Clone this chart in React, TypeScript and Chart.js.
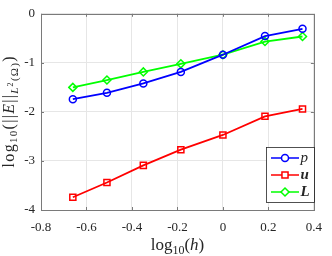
import React, { useEffect, useRef } from "react";
import { Chart, registerables } from "chart.js";

Chart.register(...registerables);

const logH = [-0.66, -0.51, -0.35, -0.185, 0, 0.185, 0.35];
const errP = [-1.74, -1.61, -1.42, -1.185, -0.834, -0.455, -0.307];
const errU = [-3.74, -3.44, -3.09, -2.77, -2.47, -2.09, -1.94];
const errL = [-1.5, -1.35, -1.185, -1.02, -0.834, -0.566, -0.463];
const xTicks = [-0.8, -0.6, -0.4, -0.2, 0, 0.2, 0.4];
const yTicks = [-4, -3, -2, -1, 0];

const SERIF = "'Liberation Serif', 'DejaVu Serif', serif";
const TXT = "#262626";

type Part = { t: string; size: number; style?: string; dy?: number };

// draws text parts centred at (cx, cy); if target is given, spreads glyphs to reach that width
function drawRich(ctx: CanvasRenderingContext2D, parts: Part[], cx: number, cy: number, target?: number) {
  const glyphs: { c: string; font: string; dy: number; w: number }[] = [];
  parts.forEach((p) => {
    const font = `${p.style || ""} ${p.size}px ${SERIF}`;
    ctx.font = font;
    for (const c of Array.from(p.t)) {
      glyphs.push({ c, font, dy: p.dy || 0, w: ctx.measureText(c).width });
    }
  });
  const natural = glyphs.reduce((s, g) => s + g.w, 0);
  const gap = target && glyphs.length > 1 ? Math.max(0, (target - natural) / (glyphs.length - 1)) : 0;
  const total = natural + gap * (glyphs.length - 1);
  let x = cx - total / 2;
  ctx.textBaseline = "alphabetic";
  ctx.textAlign = "left";
  glyphs.forEach((g) => {
    ctx.font = g.font;
    ctx.fillText(g.c, x, cy + g.dy);
    x += g.w + gap;
  });
}

function drawMarker(ctx: CanvasRenderingContext2D, ps: string, x: number, y: number, r: number, color: string) {
  ctx.save();
  ctx.strokeStyle = color;
  ctx.fillStyle = "#ffffff";
  ctx.lineWidth = 1.5;
  ctx.beginPath();
  if (ps === "circle") {
    ctx.arc(x, y, r, 0, Math.PI * 2);
  } else if (ps === "rect") {
    const s = r * Math.SQRT1_2;
    ctx.rect(x - s, y - s, 2 * s, 2 * s);
  } else {
    ctx.moveTo(x, y - r);
    ctx.lineTo(x + r, y);
    ctx.lineTo(x, y + r);
    ctx.lineTo(x - r, y);
    ctx.closePath();
  }
  ctx.fill();
  ctx.stroke();
  ctx.restore();
}

const decorPlugin = {
  id: "decor",
  afterDraw(chart: any) {
    const ctx: CanvasRenderingContext2D = chart.ctx;
    const a = chart.chartArea;
    const xs = chart.scales.x;
    const ys = chart.scales.y;
    ctx.save();
    ctx.strokeStyle = "#7a7a7a";
    ctx.lineWidth = 1;
    ctx.strokeRect(Math.round(a.left) + 0.5, Math.round(a.top) + 0.5, Math.round(a.right - a.left), Math.round(a.bottom - a.top));
    ctx.beginPath();
    xTicks.forEach((v) => {
      const px = Math.round(xs.getPixelForValue(v)) + 0.5;
      ctx.moveTo(px, a.bottom);
      ctx.lineTo(px, a.bottom - 3);
      ctx.moveTo(px, a.top);
      ctx.lineTo(px, a.top + 3);
    });
    yTicks.forEach((v) => {
      const py = Math.round(ys.getPixelForValue(v)) + 0.5;
      ctx.moveTo(a.left, py);
      ctx.lineTo(a.left + 3, py);
      ctx.moveTo(a.right, py);
      ctx.lineTo(a.right - 3, py);
    });
    ctx.stroke();

    ctx.fillStyle = TXT;
    drawRich(
      ctx,
      [
        { t: "log", size: 17 },
        { t: "10", size: 12, dy: 3.5 },
        { t: "(", size: 17 },
        { t: "h", size: 17, style: "italic" },
        { t: ")", size: 17 },
      ],
      (a.left + a.right) / 2,
      250
    );
    ctx.save();
    ctx.translate(13.5, (a.top + a.bottom) / 2);
    ctx.rotate(-Math.PI / 2);
    drawRich(
      ctx,
      [
        { t: "log", size: 16 },
        { t: "10", size: 11, dy: 3.5 },
        { t: "(||", size: 16 },
        { t: "E", size: 16, style: "italic" },
        { t: "||", size: 16 },
        { t: "L", size: 11, style: "italic", dy: 4 },
        { t: "2", size: 8, dy: -0.5 },
        { t: "(Ω)", size: 11, dy: 4 },
        { t: ")", size: 16 },
      ],
      0,
      0,
      111
    );
    ctx.restore();

    const lx = 266, ly = 147, lw = 48, lh = 55;
    ctx.fillStyle = "#ffffff";
    ctx.fillRect(lx, ly, lw, lh);
    ctx.strokeStyle = "#262626";
    ctx.lineWidth = 0.8;
    ctx.strokeRect(lx + 0.5, ly + 0.5, lw, lh);
    const items = [
      { label: "p", style: "italic", color: "#0000ff", ps: "circle", r: 3.5 },
      { label: "u", style: "italic bold", color: "#ff0000", ps: "rect", r: 4.3 },
      { label: "L", style: "italic bold", color: "#00ff00", ps: "rectRot", r: 4 },
    ];
    items.forEach((it, i) => {
      const y = 158 + i * 17;
      ctx.strokeStyle = it.color;
      ctx.lineWidth = 1.5;
      ctx.beginPath();
      ctx.moveTo(271, y);
      ctx.lineTo(299, y);
      ctx.stroke();
      drawMarker(ctx, it.ps, 285, y, it.r, it.color);
      ctx.fillStyle = TXT;
      ctx.font = `${it.style} 15px ${SERIF}`;
      ctx.textAlign = "left";
      ctx.textBaseline = "middle";
      ctx.fillText(it.label, 300.5, y + 0.5);
    });
    ctx.restore();
  },
};

export default function App() {
  const ref = useRef<HTMLCanvasElement>(null);
  useEffect(() => {
    if (!ref.current) return;
    const mk = (data: number[]) => logH.map((x, i) => ({ x, y: data[i] }));
    const chart = new Chart(ref.current, {
      type: "line",
      data: {
        datasets: [
          {
            label: "p",
            data: mk(errP),
            borderColor: "#0000ff",
            backgroundColor: "rgba(0,0,0,0)",
            pointStyle: "circle",
            pointRadius: 3.5,
            pointBorderWidth: 1.5,
            borderWidth: 1.8,
          },
          {
            label: "u",
            data: mk(errU),
            borderColor: "#ff0000",
            backgroundColor: "rgba(0,0,0,0)",
            pointStyle: "rect",
            pointRadius: 4.3,
            pointBorderWidth: 1.5,
            borderWidth: 1.8,
          },
          {
            label: "L",
            data: mk(errL),
            borderColor: "#00ff00",
            backgroundColor: "rgba(0,0,0,0)",
            pointStyle: "rectRot",
            pointRadius: 4,
            pointBorderWidth: 1.5,
            borderWidth: 1.8,
          },
        ],
      },
      options: {
        animation: false,
        responsive: false,
        devicePixelRatio: 1,
        layout: { padding: { top: 5, right: 10, left: 0, bottom: 0 } },
        plugins: { legend: { display: false }, tooltip: { enabled: false } },
        scales: {
          x: {
            type: "linear",
            min: -0.8,
            max: 0.4,
            afterBuildTicks: (s: any) => {
              s.ticks = xTicks.map((v) => ({ value: v }));
            },
            afterFit: (s: any) => {
              s.height = 46;
            },
            ticks: {
              padding: 10,
              color: TXT,
              font: { family: SERIF, size: 13 },
              callback: (v: any) => String(Number(Number(v).toFixed(1))),
              maxRotation: 0,
            },
            grid: { color: "#e6e6e6", drawTicks: false },
            border: { display: false },
          },
          y: {
            type: "linear",
            min: -4,
            max: 0,
            afterBuildTicks: (s: any) => {
              s.ticks = yTicks.map((v) => ({ value: v }));
            },
            afterFit: (s: any) => {
              s.width = 41;
            },
            ticks: {
              padding: 6,
              color: TXT,
              font: { family: SERIF, size: 13 },
              callback: (v: any) => String(v),
            },
            grid: { color: "#e6e6e6", drawTicks: false },
            border: { display: false },
          },
        },
      },
      plugins: [decorPlugin],
    } as any);
    return () => chart.destroy();
  }, []);
  return (
    <div style={{ position: "fixed", left: 0, top: 0, width: 332, height: 256, background: "#fff" }}>
      <canvas ref={ref} width={332} height={256} style={{ width: 332, height: 256 }} />
    </div>
  );
}
